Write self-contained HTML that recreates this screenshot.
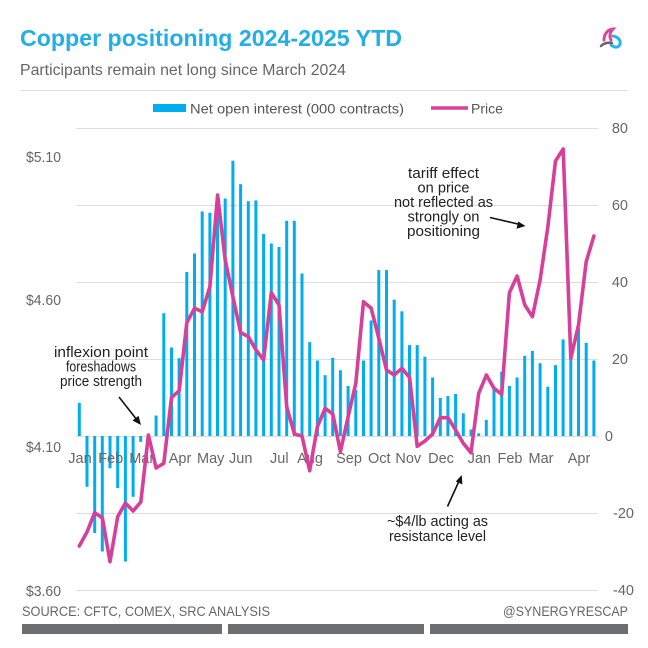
<!DOCTYPE html>
<html>
<head>
<meta charset="utf-8">
<style>
  html, body { margin:0; padding:0; background:#ffffff; }
  svg { display:block; }
  text { font-family: "Liberation Sans", "DejaVu Sans", sans-serif; }
</style>
</head>
<body>
<svg width="648" height="648" viewBox="0 0 648 648" xmlns="http://www.w3.org/2000/svg">
  <rect width="648" height="648" fill="#ffffff"/>

  <!-- Title -->
  <text x="20" y="46" font-size="23" font-weight="bold" fill="#22aee6" textLength="382" lengthAdjust="spacingAndGlyphs">Copper positioning 2024-2025 YTD</text>
  <text x="20" y="75" font-size="16" fill="#666666" textLength="326" lengthAdjust="spacingAndGlyphs">Participants remain net long since March 2024</text>

  <!-- Logo -->
  <g fill="none" stroke-linecap="round">
    <path d="M604 40 C 604 33, 609 29, 613 29 C 610 32, 609 36, 611 40" stroke="#e0449a" stroke-width="3"/>
    <path d="M613 36 C 619 37, 622 42, 619 46 C 617 48, 613 47, 611 45" stroke="#29b5ea" stroke-width="3"/>
    <path d="M601 46 C 604 43, 609 42, 612 43" stroke="#666666" stroke-width="2.5"/>
  </g>

  <!-- Separator -->
  <line x1="20" y1="90.5" x2="628" y2="90.5" stroke="#dddddd" stroke-width="1"/>

  <!-- Legend -->
  <rect x="153" y="104" width="33" height="8" fill="#00aeef"/>
  <text x="190" y="113.5" font-size="14" fill="#555555" textLength="214" lengthAdjust="spacingAndGlyphs">Net open interest (000 contracts)</text>
  <line x1="431" y1="108" x2="468" y2="108" stroke="#d6409b" stroke-width="3.5"/>
  <text x="471" y="113.5" font-size="14" fill="#555555" textLength="32" lengthAdjust="spacingAndGlyphs">Price</text>

  <!-- Gridlines -->
  <g stroke="#dddddd" stroke-width="1">
    <line x1="76" y1="128.5" x2="598" y2="128.5"/>
    <line x1="76" y1="205.5" x2="598" y2="205.5"/>
    <line x1="76" y1="282.5" x2="598" y2="282.5"/>
    <line x1="76" y1="359.5" x2="598" y2="359.5"/>
    <line x1="76" y1="436.5" x2="598" y2="436.5"/>
    <line x1="76" y1="513.5" x2="598" y2="513.5"/>
    <line x1="76" y1="590.5" x2="598" y2="590.5"/>
  </g>

  <!-- Right axis labels -->
  <g font-size="14.5" fill="#666666">
    <text x="628" y="133" text-anchor="end">80</text>
    <text x="628" y="210" text-anchor="end">60</text>
    <text x="628" y="287" text-anchor="end">40</text>
    <text x="628" y="364" text-anchor="end">20</text>
    <text x="613" y="441" text-anchor="end">0</text>
    <text x="613" y="518">-20</text>
    <text x="613" y="595">-40</text>
  </g>

  <!-- Left axis labels -->
  <g font-size="14.5" fill="#666666">
    <text x="26" y="162" textLength="35" lengthAdjust="spacingAndGlyphs">$5.10</text>
    <text x="26" y="305" textLength="35" lengthAdjust="spacingAndGlyphs">$4.60</text>
    <text x="26" y="452" textLength="35" lengthAdjust="spacingAndGlyphs">$4.10</text>
    <text x="26" y="596" textLength="35" lengthAdjust="spacingAndGlyphs">$3.60</text>
  </g>

  <!-- Bars -->
  <g fill="#00aeef">
    <rect x="77.8" y="402.9" width="3" height="33.1"/>
    <rect x="85.5" y="436" width="3" height="50.8"/>
    <rect x="93.2" y="436" width="3" height="97.0"/>
    <rect x="100.8" y="436" width="3" height="115.5"/>
    <rect x="108.5" y="436" width="3" height="32.3"/>
    <rect x="116.2" y="436" width="3" height="52.0"/>
    <rect x="123.9" y="436" width="3" height="125.5"/>
    <rect x="131.6" y="436" width="3" height="60.8"/>
    <rect x="139.2" y="436" width="3" height="5.8"/>
    <rect x="154.6" y="415.6" width="3" height="20.4"/>
    <rect x="162.3" y="313.2" width="3" height="122.8"/>
    <rect x="170.0" y="347.5" width="3" height="88.5"/>
    <rect x="177.6" y="358.2" width="3" height="77.8"/>
    <rect x="185.3" y="272.0" width="3" height="164.0"/>
    <rect x="193.0" y="253.5" width="3" height="182.5"/>
    <rect x="200.7" y="211.5" width="3" height="224.5"/>
    <rect x="208.4" y="212.7" width="3" height="223.3"/>
    <rect x="216.0" y="195.0" width="3" height="241.0"/>
    <rect x="223.7" y="198.5" width="3" height="237.5"/>
    <rect x="231.4" y="160.7" width="3" height="275.3"/>
    <rect x="239.1" y="184.2" width="3" height="251.8"/>
    <rect x="246.8" y="201.2" width="3" height="234.8"/>
    <rect x="254.4" y="200.4" width="3" height="235.6"/>
    <rect x="262.1" y="233.9" width="3" height="202.1"/>
    <rect x="269.8" y="243.5" width="3" height="192.5"/>
    <rect x="277.5" y="247.0" width="3" height="189.0"/>
    <rect x="285.2" y="220.8" width="3" height="215.2"/>
    <rect x="292.8" y="220.8" width="3" height="215.2"/>
    <rect x="300.5" y="273.5" width="3" height="162.5"/>
    <rect x="308.2" y="342.1" width="3" height="93.9"/>
    <rect x="315.9" y="360.5" width="3" height="75.5"/>
    <rect x="323.6" y="375.2" width="3" height="60.8"/>
    <rect x="331.2" y="357.8" width="3" height="78.2"/>
    <rect x="338.9" y="370.2" width="3" height="65.8"/>
    <rect x="346.6" y="386.0" width="3" height="50.0"/>
    <rect x="354.3" y="389.8" width="3" height="46.2"/>
    <rect x="362.0" y="360.5" width="3" height="75.5"/>
    <rect x="369.6" y="320.5" width="3" height="115.5"/>
    <rect x="377.3" y="270.1" width="3" height="165.9"/>
    <rect x="385.0" y="270.1" width="3" height="165.9"/>
    <rect x="392.7" y="299.7" width="3" height="136.3"/>
    <rect x="400.4" y="311.3" width="3" height="124.7"/>
    <rect x="408.0" y="345.1" width="3" height="90.9"/>
    <rect x="415.7" y="345.1" width="3" height="90.9"/>
    <rect x="423.4" y="356.7" width="3" height="79.3"/>
    <rect x="431.1" y="377.5" width="3" height="58.5"/>
    <rect x="438.8" y="397.9" width="3" height="38.1"/>
    <rect x="446.4" y="396.0" width="3" height="40.0"/>
    <rect x="454.1" y="394.0" width="3" height="42.0"/>
    <rect x="461.8" y="413.3" width="3" height="22.7"/>
    <rect x="469.5" y="429.5" width="3" height="6.5"/>
    <rect x="477.2" y="433.3" width="3" height="2.7"/>
    <rect x="484.8" y="419.8" width="3" height="16.2"/>
    <rect x="492.5" y="388.3" width="3" height="47.7"/>
    <rect x="500.2" y="371.7" width="3" height="64.3"/>
    <rect x="507.9" y="386.0" width="3" height="50.0"/>
    <rect x="515.6" y="377.5" width="3" height="58.5"/>
    <rect x="523.2" y="355.9" width="3" height="80.1"/>
    <rect x="530.9" y="350.9" width="3" height="85.1"/>
    <rect x="538.6" y="363.2" width="3" height="72.8"/>
    <rect x="546.3" y="386.7" width="3" height="49.3"/>
    <rect x="554.0" y="365.2" width="3" height="70.8"/>
    <rect x="561.6" y="339.4" width="3" height="96.6"/>
    <rect x="569.3" y="351.3" width="3" height="84.7"/>
    <rect x="577.0" y="328.2" width="3" height="107.8"/>
    <rect x="584.7" y="342.8" width="3" height="93.2"/>
    <rect x="592.4" y="360.5" width="3" height="75.5"/>
  </g>

  <!-- Month labels -->
  <g font-size="14.5" fill="#666666" text-anchor="middle">
    <text x="80" y="463">Jan</text>
    <text x="110.7" y="463">Feb</text>
    <text x="141.7" y="463">Mar</text>
    <text x="180" y="463">Apr</text>
    <text x="210.7" y="463">May</text>
    <text x="240.7" y="463">Jun</text>
    <text x="279.3" y="463">Jul</text>
    <text x="310" y="463">Aug</text>
    <text x="349" y="463">Sep</text>
    <text x="379.3" y="463">Oct</text>
    <text x="408.3" y="463">Nov</text>
    <text x="441" y="463">Dec</text>
    <text x="479.3" y="463">Jan</text>
    <text x="510" y="463">Feb</text>
    <text x="541" y="463">Mar</text>
    <text x="579" y="463">Apr</text>
  </g>

  <!-- Price line -->
  <polyline fill="none" stroke="#d6409b" stroke-width="3.6" stroke-linejoin="round" stroke-linecap="round"
    points="79.3,546 87.0,532 94.7,512.7 102.4,518 110.0,561.7 117.7,516.7 125.4,503 133.1,511 140.8,502 148.4,435 156.1,468 163.8,463.3 171.5,397.5 179.2,390.7 186.8,322.7 194.5,308.3 202.2,311.7 209.9,286.7 217.6,195 225.2,260 232.9,296.7 240.6,332.5 248.3,336.7 256.0,350 263.6,360 271.3,292.7 279.0,305 286.7,406.7 294.4,434 302.0,436 309.7,470.7 317.4,426.7 325.1,408.3 332.8,414 340.4,451.7 348.1,416.7 355.8,383.3 363.5,301.7 371.2,308.3 378.8,338.3 386.5,370 394.2,375 401.9,368.3 409.6,377.5 417.2,446.3 424.9,441 432.6,434 440.3,417.7 448.0,417.7 455.6,430 463.3,443.3 471.0,452.7 478.7,393.3 486.4,375 494.0,388.3 501.7,394.3 509.4,292.7 517.1,276 524.8,305 532.4,316.7 540.1,280 547.8,227.3 555.5,161 563.2,149 570.8,358.3 578.5,325 586.2,261.7 593.9,236"/>

  <!-- Annotations -->
  <g font-size="14.5" fill="#222222" text-anchor="middle">
    <text x="101" y="357" textLength="94" lengthAdjust="spacingAndGlyphs">inflexion point</text>
    <text x="101" y="371.5" textLength="70" lengthAdjust="spacingAndGlyphs">foreshadows</text>
    <text x="101" y="386" textLength="82" lengthAdjust="spacingAndGlyphs">price strength</text>

    <text x="443.5" y="178" textLength="71" lengthAdjust="spacingAndGlyphs">tariff effect</text>
    <text x="443.5" y="192.5" textLength="52" lengthAdjust="spacingAndGlyphs">on price</text>
    <text x="443.5" y="207" textLength="99" lengthAdjust="spacingAndGlyphs">not reflected as</text>
    <text x="443.5" y="221.5" textLength="72" lengthAdjust="spacingAndGlyphs">strongly on</text>
    <text x="443.5" y="236" textLength="73" lengthAdjust="spacingAndGlyphs">positioning</text>

    <text x="437.5" y="526" textLength="101" lengthAdjust="spacingAndGlyphs">~$4/lb acting as</text>
    <text x="437.5" y="541" textLength="97" lengthAdjust="spacingAndGlyphs">resistance level</text>
  </g>

  <!-- Arrows -->
  <g stroke="#111111" stroke-width="1.6" fill="none">
    <line x1="119" y1="397" x2="137" y2="420"/>
    <line x1="490" y1="217.5" x2="520" y2="224.5"/>
    <line x1="447.5" y1="506.5" x2="459.5" y2="480"/>
  </g>
  <g fill="#111111">
    <polygon points="141,425 132.5,420.5 138.5,415.8"/>
    <polygon points="525.5,226 516.5,228.8 518.2,221.5"/>
    <polygon points="461.7,475 462.4,484.5 455.8,481.5"/>
  </g>

  <!-- Footer -->
  <text x="22" y="616" font-size="14" fill="#666666" textLength="248" lengthAdjust="spacingAndGlyphs">SOURCE: CFTC, COMEX, SRC ANALYSIS</text>
  <text x="628" y="616" font-size="14" fill="#666666" text-anchor="end" textLength="125" lengthAdjust="spacingAndGlyphs">@SYNERGYRESCAP</text>
  <g fill="#6d6e70">
    <rect x="22" y="624" width="200" height="10"/>
    <rect x="228" y="624" width="196" height="10"/>
    <rect x="430" y="624" width="198" height="10"/>
  </g>
</svg>
</body>
</html>
